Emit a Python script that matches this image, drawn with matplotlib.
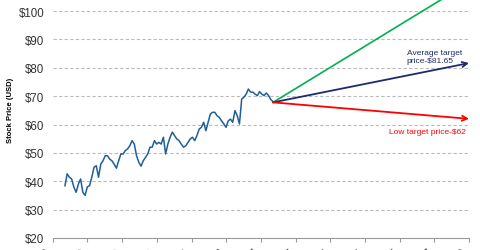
import matplotlib.pyplot as plt
import numpy as np

# stock price history (USD), roughly mid-Jan 2016 to mid-Jan 2017
prices = [38.4, 42.6, 41.4, 40.8, 37.9, 36.1, 39.0, 40.8, 36.1, 35.0,
          38.0, 38.4, 41.4, 44.9, 45.5, 41.4, 46.0, 47.2, 49.0, 49.0,
          47.8, 47.2, 46.0, 44.6, 47.2, 49.6, 49.6, 50.8, 51.4, 52.5,
          54.3, 53.1, 49.0, 46.7, 45.3, 47.2, 48.4, 49.6, 52.0, 52.0,
          54.3, 53.1, 53.7, 53.1, 55.5, 49.6, 53.1, 55.5, 57.3, 56.1,
          54.9, 54.3, 53.1, 52.0, 52.5, 53.7, 54.9, 55.5, 54.3, 56.1,
          58.4, 59.0, 60.8, 57.8, 60.8, 63.7, 64.3, 64.3, 63.1, 62.5,
          61.3, 60.2, 59.0, 61.3, 61.9, 60.8, 64.9, 63.1, 60.2, 69.0,
          69.6, 70.7, 72.5, 71.4, 71.4, 70.7, 70.2, 71.6, 70.7, 70.2,
          71.1, 70.2, 68.8, 68.1]

# analyst 12-month targets
avg_target = 81.65
low_target = 62.0
high_target = 110.0

tick_labels = ['Jan-16', 'Mar-16', 'May-16', 'Jul-16', 'Sep-16', 'Nov-16',
               'Jan-17', 'Mar-17', 'May-17', 'Jul-17', 'Sep-17', 'Nov-17',
               'Jan-18']
y_ticks = [20, 30, 40, 50, 60, 70, 80, 90, 100]

fig = plt.figure(figsize=(4.8, 2.51), dpi=100)
ax = fig.add_axes([0.110, 0.048, 0.867, 0.904])

x = np.linspace(0.7, 12.7, len(prices))
ax.plot(x, prices, color='#1f5f99', lw=1.1, zorder=3)

# projections from the last close to the targets
x0, y0 = x[-1], prices[-1] - 0.3
x_end = 24
ax.plot([x0, x_end], [y0, high_target], color='#00b050', lw=1.2,
        clip_on=False, zorder=4)
for target, col in [(avg_target, '#1f2a6b'), (low_target, '#ff0000')]:
    ax.annotate('', xy=(x_end, target), xytext=(x0, y0),
                arrowprops=dict(arrowstyle='->', color=col, lw=1.3,
                                mutation_scale=9, shrinkA=0, shrinkB=0),
                annotation_clip=False, zorder=4)

ax.text(20.4, 83.9, 'Average target\nprice-$81.65', color='#1f2a6b',
        fontsize=6, family='Liberation Sans', ha='left', va='center',
        linespacing=1.3)
ax.text(23.8, 57.7, 'Low target price-$62', color='#ff0000',
        fontsize=6, family='Liberation Sans', ha='right', va='center')

ax.set_xlim(0, 24)
ax.set_ylim(20, 100)
ax.set_xticks(range(0, 25, 2))
ax.set_xticklabels(tick_labels, rotation=45, ha='right', va='top',
                   fontsize=8, color='#333333', family='Liberation Sans')
ax.set_yticks(y_ticks)
ax.set_yticklabels(['${}'.format(v) for v in y_ticks], fontsize=8.3,
                   color='#333333', family='Liberation Sans')
ax.tick_params(axis='y', length=0, pad=6)
ax.tick_params(axis='x', length=3, color='#999999', pad=3)

for v in y_ticks[1:]:
    ax.axhline(v, color='#bbbbbb', lw=0.8, ls=(0, (3, 2)), zorder=1)
for side in ['left', 'right', 'top']:
    ax.spines[side].set_visible(False)
ax.spines['bottom'].set_color('#999999')
ax.spines['bottom'].set_linewidth(0.8)

fig.text(0.021, 0.56, 'Stock Price (USD)', rotation=90, fontsize=5.5,
         fontweight='bold', family='Liberation Sans', ha='center', va='center')

fig.savefig('out.png', dpi=100)
